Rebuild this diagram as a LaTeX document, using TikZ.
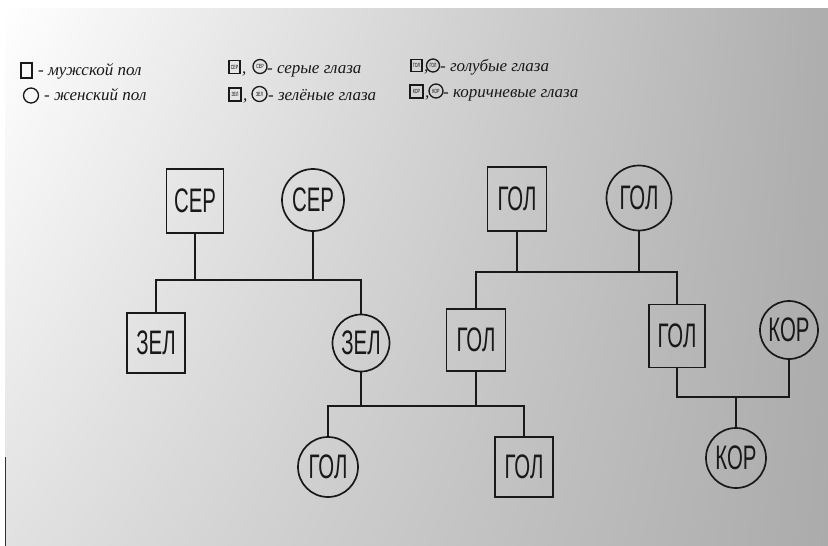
\documentclass[tikz,border=0pt]{standalone}
\usepackage{fontspec}
\setmainfont{Liberation Serif}
\setsansfont{Liberation Sans}
\usepackage{graphicx}
\usetikzlibrary{shadings}

% capital labels inside the pedigree symbols
\newcommand\gl[1]{\scalebox{0.6}[1]{\fontsize{34}{34}\selectfont\sffamily #1}}
% tiny labels inside the legend symbols
\newcommand\tl[1]{\scalebox{0.6}[1]{\fontsize{6}{6}\selectfont\sffamily #1}}

\tikzset{
  ink/.style={line width=1.7pt, draw=black!90},
  male/.style={ink, rectangle, inner sep=0pt, text=black!90},
  female/.style={ink, circle, inner sep=0pt, text=black!90},
  lmale/.style={line width=1.3pt, draw=black!90, rectangle, inner sep=0pt},
  lfemale/.style={line width=1.3pt, draw=black!90, circle, inner sep=0pt},
  legtext/.style={anchor=base west, inner sep=0pt, text=black!90,
    font=\itshape\fontsize{17}{17}\selectfont},
}

\begin{document}
\begin{tikzpicture}[x=1pt, y=-1pt]
\useasboundingbox (0,0) rectangle (828,546);

% paper
\fill[gray!40] (0,500) rectangle (830,550);
\shade[upper left=white, upper right=gray!64, lower left=gray!24, lower right=gray!66]
  (5,8) rectangle (830,560);
\fill[white] (0,0) rectangle (830,8);
\fill[white] (0,0) rectangle (5,560);
\draw[line width=1.5pt, black!80] (5.5,457) -- (5.5,560);

% ---- legend ----
\node[lmale, minimum width=11pt, minimum height=15pt] (legM) at (26.5,70.5) {};
\node[legtext] (legMt) at (38,75) {- мужской пол};
\node[lfemale, minimum size=15pt] (legF) at (31,95.5) {};
\node[legtext] (legFt) at (44,100) {- женский пол};

\node[lmale, minimum width=11pt, minimum height=13pt] (legSerM) at (234.5,67) {\tl{СЕР}};
\node[legtext] (legC1) at (242,73) {,};
\node[lfemale, minimum size=14pt] (legSerF) at (260,66.5) {\tl{СЕР}};
\node[legtext] (legSer) at (267,73) {- серые глаза};
\node[lmale, minimum width=12pt, minimum height=13pt] (legZelM) at (235,94.5) {\tl{ЗЕЛ}};
\node[legtext] (legC2) at (243,100) {,};
\node[lfemale, minimum size=15pt] (legZelF) at (259.5,94) {\tl{ЗЕЛ}};
\node[legtext] (legZel) at (268,100) {- зелёные глаза};

\node[lmale, minimum width=11pt, minimum height=12pt] (legGolM) at (416.5,65.5) {\tl{ГОЛ}};
\node[legtext] (legC3) at (424,71) {,};
\node[lfemale, minimum size=13pt] (legGolF) at (433,65.5) {\tl{ГОЛ}};
\node[legtext] (legGol) at (440,71) {- голубые глаза};
\node[lmale, minimum width=13pt, minimum height=13pt] (legKorM) at (416.5,91.5) {\tl{КОР}};
\node[legtext] (legC4) at (425,97) {,};
\node[lfemale, minimum size=14pt] (legKorF) at (436,91) {\tl{КОР}};
\node[legtext] (legKor) at (443,97) {- коричневые глаза};

% ---- first generation ----
\node[male, minimum width=57pt, minimum height=64pt] (serM) at (195,201) {\gl{СЕР}};
\node[female, minimum size=62pt] (serF) at (313,200) {\gl{СЕР}};
\node[male, minimum width=59pt, minimum height=64pt] (golM) at (517,199) {\gl{ГОЛ}};
\node[female, minimum size=65pt] (golF) at (639,198) {\gl{ГОЛ}};

% ---- second generation ----
\node[male, minimum width=58pt, minimum height=60pt] (zelM) at (156,343) {\gl{ЗЕЛ}};
\node[female, minimum size=57pt] (zelF) at (361,343) {\gl{ЗЕЛ}};
\node[male, minimum width=59pt, minimum height=62pt] (golS) at (476,340) {\gl{ГОЛ}};
\node[male, minimum width=56pt, minimum height=63pt] (golR) at (677,336) {\gl{ГОЛ}};
\node[female, minimum size=58pt] (korF) at (789,330) {\gl{КОР}};

% ---- third generation ----
\node[female, minimum size=60pt] (golD) at (328,467) {\gl{ГОЛ}};
\node[male, minimum width=58pt, minimum height=60pt] (golB) at (524,467) {\gl{ГОЛ}};
\node[female, minimum size=60pt] (korD) at (736,458) {\gl{КОР}};

% ---- family lines ----
\coordinate (bar1) at (250,280);
\coordinate (bar2) at (570,272);
\coordinate (bar3) at (420,406);
\coordinate (bar4) at (734,397);

\draw[ink] (zelM.north) |- (bar1) -| (zelF.north);
\draw[ink] (serM.south) -- (serM.south |- bar1);
\draw[ink] (serF.south) -- (serF.south |- bar1);

\draw[ink] (golS.north) |- (bar2) -| (golR.north);
\draw[ink] (golM.south) -- (golM.south |- bar2);
\draw[ink] (golF.south) -- (golF.south |- bar2);

\draw[ink] (golD.north) |- (bar3) -| (golB.north);
\draw[ink] (zelF.south) -- (zelF.south |- bar3);
\draw[ink] (golS.south) -- (golS.south |- bar3);

\draw[ink] (golR.south) |- (bar4) -| (korF.south);
\draw[ink] (korD.north) -- (korD.north |- bar4);
\end{tikzpicture}
\end{document}
